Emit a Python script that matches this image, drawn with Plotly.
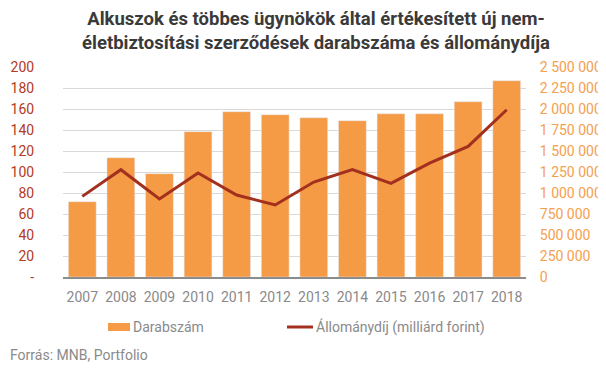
import plotly.graph_objects as go

years = ["2007", "2008", "2009", "2010", "2011", "2012", "2013", "2014", "2015", "2016", "2017", "2018"]
darabszam = [896000, 1420000, 1230000, 1730000, 1968000, 1932000, 1896000, 1861000, 1943000, 1943000, 2087000, 2337000]
allomanydij = [76.8, 102.2, 74.3, 99.0, 78.1, 68.6, 90.4, 102.2, 89.1, 108.5, 124.4, 159.3]

left_tickvals = [0, 20, 40, 60, 80, 100, 120, 140, 160, 180, 200]
left_ticktext = ["-", "20", "40", "60", "80", "100", "120", "140", "160", "180", "200"]
right_tickvals = [0, 250000, 500000, 750000, 1000000, 1250000, 1500000, 1750000, 2000000, 2250000, 2500000]
right_ticktext = ["0", "250 000", "500 000", "750 000", "1 000 000", "1 250 000", "1 500 000",
                  "1 750 000", "2 000 000", "2 250 000", "2 500 000"]

title_text = "Alkuszok és többes ügynökök által értékesített új nem-<br>életbiztosítási szerződések darabszáma és állománydíja"
source_text = "Forrás: MNB, Portfolio"
bar_name = "Darabszám"
line_name = "Állománydíj (milliárd forint)"

BAR = "#F59A45"
LINE = "#A3301E"
FONT = "Roboto"
GREY = "#8a8a8a"

# the page body adds an 8px offset, so the figure is sized to fit the window
OFF = 8
W, H = 606 - OFF, 368 - OFF
ML, MR, MT, MB = 63 - OFF, 80, 67 - OFF, 91
PW, PH = W - ML - MR, H - MT - MB


def px_x(x):
    return (x - OFF - ML) / PW


def px_y(y):
    return (H + OFF - MB - y) / PH


fig = go.Figure()
fig.add_trace(go.Bar(x=years, y=darabszam, name=bar_name, marker_color=BAR,
                     yaxis="y", showlegend=False))
fig.add_trace(go.Scatter(x=years, y=allomanydij, name=line_name,
                         mode="lines", line=dict(color=LINE, width=3), yaxis="y2",
                         showlegend=False))

legend_y = 327
shapes = [
    dict(type="rect", xref="paper", yref="paper",
         x0=px_x(108), x1=px_x(130), y0=px_y(legend_y + 4), y1=px_y(legend_y - 4),
         fillcolor=BAR, line=dict(width=0)),
    dict(type="line", xref="paper", yref="paper",
         x0=px_x(287), x1=px_x(313), y0=px_y(legend_y), y1=px_y(legend_y),
         line=dict(color=LINE, width=3)),
]
annotations = [
    dict(text=bar_name, xref="paper", yref="paper", x=px_x(131), y=px_y(legend_y),
         xanchor="left", yanchor="middle", showarrow=False,
         font=dict(family=FONT, size=14, color=GREY)),
    dict(text=line_name, xref="paper", yref="paper", x=px_x(314), y=px_y(legend_y),
         xanchor="left", yanchor="middle", showarrow=False,
         font=dict(family=FONT, size=14, color=GREY)),
    dict(text=source_text, xref="paper", yref="paper", x=px_x(8), y=px_y(355),
         xanchor="left", yanchor="middle", showarrow=False,
         font=dict(family=FONT, size=14, color=GREY)),
]

fig.update_layout(
    width=W, height=H,
    margin=dict(l=ML, r=MR, t=MT, b=MB),
    paper_bgcolor="white", plot_bgcolor="white",
    font=dict(family=FONT, size=14, color=GREY),
    bargap=0.28,
    showlegend=False,
    title=dict(text=title_text, x=(316 - OFF) / W, xanchor="center", xref="container",
               y=0.9525, yanchor="top", yref="container",
               font=dict(family=FONT, size=18.5, color="#3a3a3a", weight="bold")),
    xaxis=dict(showline=True, linecolor="#8c8c8c", linewidth=1.5, ticks="outside",
               ticklen=6, tickcolor="rgba(0,0,0,0)", tickfont=dict(color=GREY, size=14),
               automargin=False),
    yaxis=dict(range=[0, 2500000], tickvals=right_tickvals, ticktext=right_ticktext,
               side="right", showgrid=True, gridcolor="#d9d9d9", gridwidth=1, zeroline=False,
               ticks="outside", ticklen=10, tickcolor="rgba(0,0,0,0)",
               tickfont=dict(color="#F5A04E", size=14), automargin=False),
    yaxis2=dict(range=[0, 200], tickvals=left_tickvals, ticktext=left_ticktext,
                overlaying="y", side="left", showgrid=False, zeroline=False,
                ticks="outside", ticklen=25, tickcolor="rgba(0,0,0,0)",
                tickfont=dict(color="#B23A24", size=14), automargin=False),
    shapes=shapes,
    annotations=annotations,
)

fig.write_html("out.html")
